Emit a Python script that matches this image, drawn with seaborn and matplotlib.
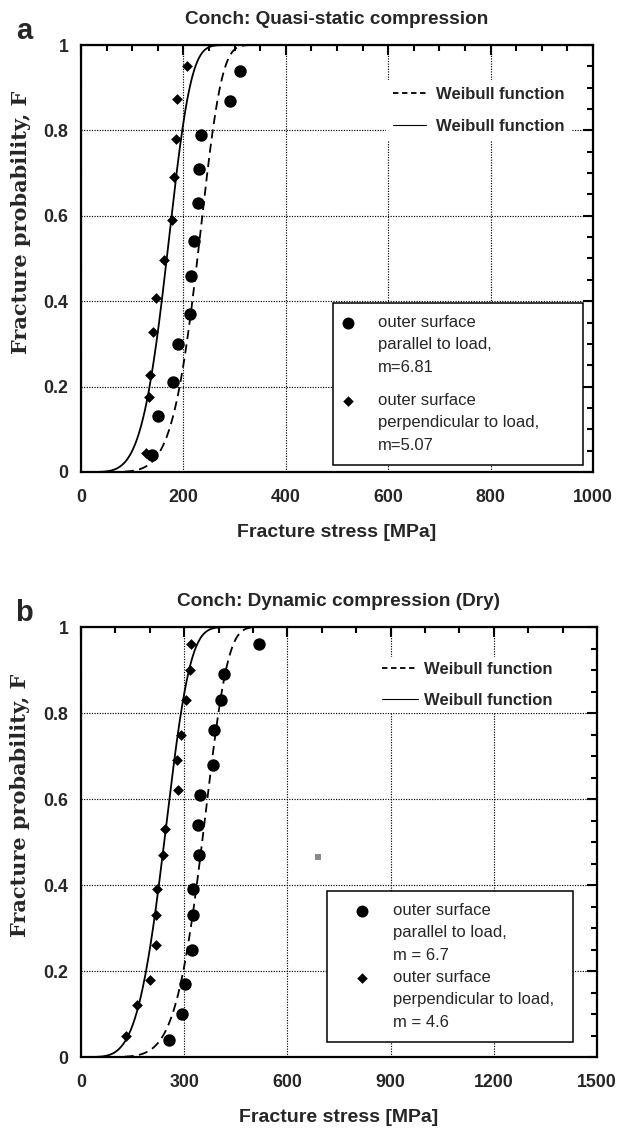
import numpy as np
import matplotlib
matplotlib.use("Agg")
import matplotlib.pyplot as plt
from matplotlib.lines import Line2D
from matplotlib.path import Path
import seaborn as sns

sns.set_style("white")
plt.rcParams["font.family"] = ["Liberation Sans", "DejaVu Sans"]

# ---- panel a: quasi-static compression ----
quasi_par_stress = [139, 150, 179, 190, 212, 214, 221, 228, 231, 235, 291, 310]
quasi_par_F = [0.04, 0.13, 0.21, 0.30, 0.37, 0.46, 0.54, 0.63, 0.71, 0.79, 0.87, 0.94]
quasi_perp_stress = [127, 133, 135, 140, 147, 162, 178, 182, 186, 188, 208]
quasi_perp_F = [0.045, 0.176, 0.226, 0.328, 0.407, 0.496, 0.590, 0.690, 0.781, 0.873, 0.951]
quasi_m_par, quasi_s0_par = 6.81, 240.0
quasi_m_perp, quasi_s0_perp = 5.07, 180.0

# ---- panel b: dynamic compression (dry) ----
dyn_par_stress = [256, 293, 303, 322, 325, 325, 342, 340, 345, 383, 387, 408, 416, 518]
dyn_par_F = [0.04, 0.10, 0.17, 0.25, 0.33, 0.39, 0.47, 0.54, 0.61, 0.68, 0.76, 0.83, 0.89, 0.96]
dyn_perp_stress = [132, 162, 201, 218, 217, 221, 237, 243, 281, 280, 292, 306, 316, 321]
dyn_perp_F = [0.05, 0.12, 0.18, 0.26, 0.33, 0.39, 0.47, 0.53, 0.62, 0.69, 0.75, 0.83, 0.90, 0.96]
dyn_m_par, dyn_s0_par = 6.7, 372.0
dyn_m_perp, dyn_s0_perp = 4.6, 262.0
stray_stress, stray_F = [688], [0.465]

y_ticks = [0, 0.2, 0.4, 0.6, 0.8, 1.0]
y_labels = ["0", "0.2", "0.4", "0.6", "0.8", "1"]
a_x_ticks = [0, 200, 400, 600, 800, 1000]
b_x_ticks = [0, 300, 600, 900, 1200, 1500]


def weibull(sig, m, s0):
    return 1.0 - np.exp(-(sig / s0) ** m)


fig = plt.figure(figsize=(6.17, 11.30), dpi=100)
W, H = 617.0, 1130.0
ax_a = fig.add_axes([81 / W, 1 - 472 / H, 512 / W, 427 / H])
ax_b = fig.add_axes([81 / W, 1 - 1057 / H, 516 / W, 430 / H])

DASH = (0, (5, 3))
LEG_FS = 12
LINE_SPACING = 1.62    # line spacing of the three-line key labels
LINE_PITCH_PT = 15.8   # resulting distance between those lines, points


def style_axes(ax, xmax, xticks, minor_step, title, letter):
    ax.set_xlim(0, xmax)
    ax.set_ylim(0, 1)
    ax.set_xticks(xticks, [str(t) for t in xticks], fontweight="bold")
    ax.set_yticks(y_ticks, y_labels, fontweight="bold")
    ax.set_xticks(np.arange(0, xmax + 1, minor_step), minor=True)
    ax.set_yticks(np.arange(0, 1.0001, 0.05), minor=True)
    ax.tick_params(which="both", direction="in", top=True, right=True,
                   width=1.5, color="black", labelsize=12.8)
    ax.tick_params(which="major", length=7)
    ax.tick_params(which="minor", length=4.3)
    ax.tick_params(axis="x", pad=12)
    ax.tick_params(axis="y", pad=9)
    for sp in ax.spines.values():
        sp.set_linewidth(1.6)
        sp.set_color("black")
    ax.grid(True, which="major", color="black", linestyle=(0, (1, 1.2)), linewidth=0.85)
    ax.set_axisbelow(True)
    ax.set_xlabel("Fracture stress [MPa]", fontsize=14, fontweight="bold", labelpad=13)
    ax.set_ylabel("Fracture probability, F", fontsize=15, fontweight="bold",
                  family=["DejaVu Serif"])
    ax.yaxis.set_label_coords(-0.098, 0.585)
    ax.set_title(title, fontsize=13.7, fontweight="bold", pad=15)
    ax.text(-0.094, 1.0, letter, transform=ax.transAxes, fontsize=21,
            fontweight="bold", ha="right", va="bottom")


def draw_panel(ax, xmax, par_s, par_F, perp_s, perp_F, m_par, s0_par, m_perp, s0_perp):
    sig = np.linspace(1, xmax, 800)
    sns.lineplot(x=sig, y=weibull(sig, m_par, s0_par), ax=ax, color="black",
                 linewidth=1.3, linestyle=DASH, zorder=3)
    sns.lineplot(x=sig, y=weibull(sig, m_perp, s0_perp), ax=ax, color="black",
                 linewidth=1.3, zorder=3)
    sns.scatterplot(x=par_s, y=par_F, ax=ax, marker="o", s=80, color="black",
                    linewidth=0, zorder=4)
    sns.scatterplot(x=perp_s, y=perp_F, ax=ax, marker="D", s=30, color="black",
                    linewidth=0, zorder=4)


def weibull_legend(ax, anchor, bp, hl, htp, ls):
    handles = [Line2D([], [], color="black", lw=1.3, linestyle=(0, (3, 2))),
               Line2D([], [], color="black", lw=0.8)]
    leg = ax.legend(handles, ["Weibull function", "Weibull function"],
                    loc="upper left", bbox_to_anchor=anchor, borderaxespad=0,
                    frameon=True, fancybox=False, framealpha=1, edgecolor="none",
                    facecolor="white", borderpad=bp, handlelength=hl,
                    handletextpad=htp, labelspacing=ls,
                    prop={"size": LEG_FS, "weight": "bold"})
    leg.set_zorder(6)
    ax.add_artist(leg)
    return leg


def raised_key(kind, size_pt):
    """Key symbol lifted by one text line, so it sits beside the first line of
    a three-line label instead of its middle line."""
    c = LINE_PITCH_PT / size_pt
    if kind == "circle":
        path = Path.circle(center=(0.0, c), radius=0.5)
    else:
        path = Path([(0.0, c + 0.5), (0.5, c), (0.0, c - 0.5), (-0.5, c), (0.0, c + 0.5)],
                    [Path.MOVETO, Path.LINETO, Path.LINETO, Path.LINETO, Path.CLOSEPOLY])
    msize = size_pt * (c + 0.5) / 0.5
    return Line2D([], [], marker=path, ls="none", color="black", markersize=msize, mew=0)


def marker_legend(ax, bbox, label_par, label_perp, bp, hl, htp, ls):
    handles = [raised_key("circle", 8.6), raised_key("diamond", 7.6)]
    leg = ax.legend(handles, [label_par, label_perp], loc="upper left",
                    bbox_to_anchor=bbox, mode="expand", borderaxespad=0,
                    frameon=True, fancybox=False, framealpha=1, edgecolor="black",
                    facecolor="white", borderpad=bp, handlelength=hl,
                    handletextpad=htp, labelspacing=ls, prop={"size": LEG_FS})
    for t in leg.get_texts():
        t.set_linespacing(LINE_SPACING)
    leg.get_frame().set_linewidth(1.1)
    leg.set_zorder(6)
    return leg


# panel a
draw_panel(ax_a, 1000, quasi_par_stress, quasi_par_F, quasi_perp_stress, quasi_perp_F,
           quasi_m_par, quasi_s0_par, quasi_m_perp, quasi_s0_perp)
style_axes(ax_a, 1000, a_x_ticks, 50, "Conch: Quasi-static compression", "a")
weibull_legend(ax_a, ((386 - 81) / 512, (472 - 80) / 427), 0.42, 2.0, 0.6, 1.0)
marker_legend(ax_a, ((333 - 81) / 512, (472 - 303) / 427, (583 - 333) / 512, 0.0),
              "outer surface\nparallel to load,\nm=6.81",
              "outer surface\nperpendicular to load,\nm=5.07", 0.72, 0.4, 1.6, 1.09)

# panel b
draw_panel(ax_b, 1500, dyn_par_stress, dyn_par_F, dyn_perp_stress, dyn_perp_F,
           dyn_m_par, dyn_s0_par, dyn_m_perp, dyn_s0_perp)
sns.scatterplot(x=stray_stress, y=stray_F, ax=ax_b, marker="s", s=14, color="#8a8a8a",
                linewidth=0, zorder=4)
style_axes(ax_b, 1500, b_x_ticks, 100, "Conch: Dynamic compression (Dry)", "b")
weibull_legend(ax_b, ((377 - 81) / 516, (1057 - 657) / 430), 0.3, 2.16, 0.36, 0.94)
marker_legend(ax_b, ((327 - 81) / 516, (1057 - 891) / 430, (573 - 327) / 516, 0.0),
              "outer surface\nparallel to load,\nm = 6.7",
              "outer surface\nperpendicular to load,\nm = 4.6", 0.72, 2.75, 0.49, 0.43)

fig.savefig("out.png", dpi=100)
